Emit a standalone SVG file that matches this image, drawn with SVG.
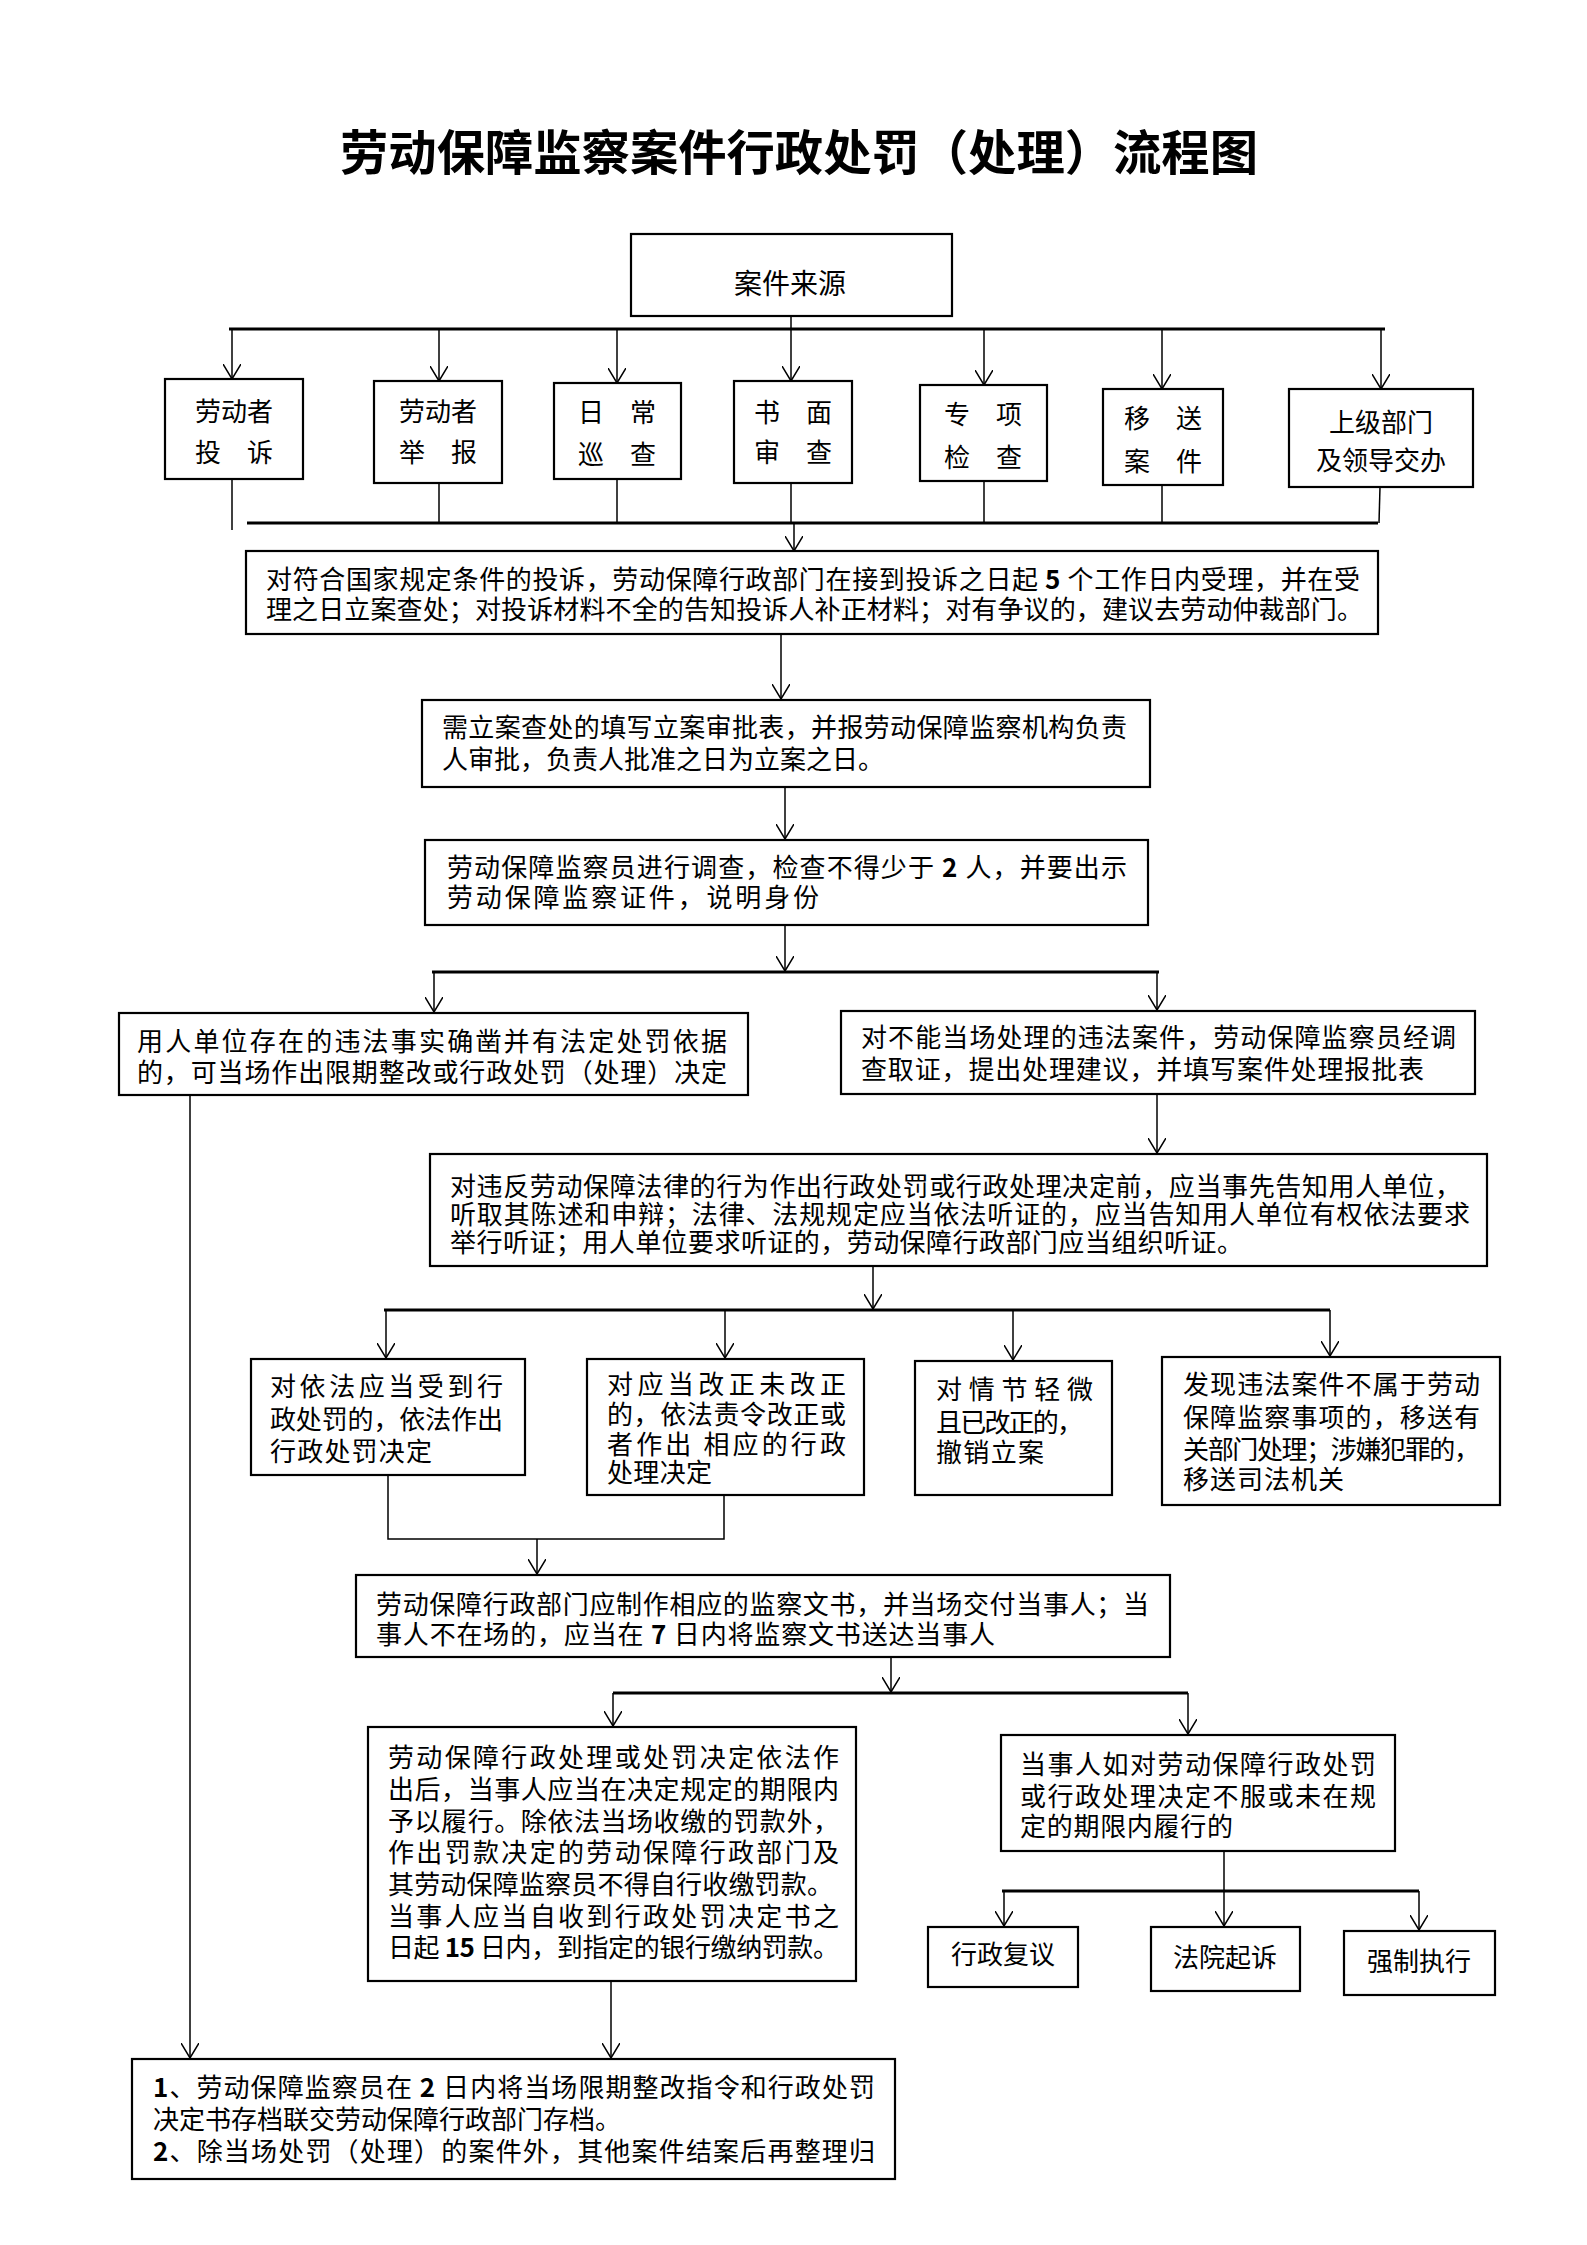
<svg xmlns="http://www.w3.org/2000/svg" width="1587" height="2245" viewBox="0 0 1587 2245">
<defs>
<style>
.box{fill:#fff;stroke:#000;stroke-width:2.2}
.ln{stroke:#000;stroke-width:1.5;fill:none}
.bar{stroke:#000;stroke-width:3;fill:none}
.t{font-family:"Noto Sans CJK SC","Noto Sans CJK TC",sans-serif;font-size:26px;fill:#000}
.c{text-anchor:middle}
.title{font-family:"Noto Sans CJK SC",sans-serif;font-size:48px;font-weight:bold;fill:#000;text-anchor:middle}
.d{font-weight:bold}
</style>
<marker id="ah" viewBox="0 0 15 18" refX="15" refY="9" markerWidth="15" markerHeight="18" markerUnits="userSpaceOnUse" orient="auto">
<path d="M0,0 L15,9 L0,18" fill="none" stroke="#000" stroke-width="1.5"/>
</marker>
</defs>
<rect width="1587" height="2245" fill="#fff"/>
<text class="title" x="799" y="170" textLength="918" lengthAdjust="spacingAndGlyphs">劳动保障监察案件行政处罚（处理）流程图</text>

<g id="connectors">
<line class="ln" x1="791" y1="316" x2="791" y2="381" marker-end="url(#ah)"/>
<line class="bar" x1="229" y1="329" x2="1385" y2="329"/>
<line class="ln" x1="232" y1="329" x2="232" y2="379" marker-end="url(#ah)"/>
<line class="ln" x1="439" y1="329" x2="439" y2="381" marker-end="url(#ah)"/>
<line class="ln" x1="617" y1="329" x2="617" y2="383" marker-end="url(#ah)"/>
<line class="ln" x1="984" y1="329" x2="984" y2="385" marker-end="url(#ah)"/>
<line class="ln" x1="1162" y1="329" x2="1162" y2="389" marker-end="url(#ah)"/>
<line class="ln" x1="1381" y1="329" x2="1381" y2="389" marker-end="url(#ah)"/>
<line class="ln" x1="232" y1="479" x2="232" y2="530"/>
<line class="ln" x1="439" y1="483" x2="439" y2="523"/>
<line class="ln" x1="617" y1="479" x2="617" y2="523"/>
<line class="ln" x1="791" y1="483" x2="791" y2="523"/>
<line class="ln" x1="984" y1="481" x2="984" y2="523"/>
<line class="ln" x1="1162" y1="485" x2="1162" y2="523"/>
<line class="ln" x1="1380" y1="487" x2="1379" y2="523"/>
<line class="bar" x1="247" y1="523" x2="1378" y2="523"/>
<line class="ln" x1="794" y1="523" x2="794" y2="551" marker-end="url(#ah)"/>
<line class="ln" x1="781" y1="634" x2="781" y2="699" marker-end="url(#ah)"/>
<line class="ln" x1="785" y1="787" x2="785" y2="839" marker-end="url(#ah)"/>
<line class="ln" x1="785" y1="925" x2="785" y2="971" marker-end="url(#ah)"/>
<line class="bar" x1="432" y1="972" x2="1159" y2="972"/>
<line class="ln" x1="434" y1="972" x2="434" y2="1012" marker-end="url(#ah)"/>
<line class="ln" x1="1157" y1="972" x2="1157" y2="1010" marker-end="url(#ah)"/>
<line class="ln" x1="190" y1="1095" x2="190" y2="2058" marker-end="url(#ah)"/>
<line class="ln" x1="1157" y1="1094" x2="1157" y2="1153" marker-end="url(#ah)"/>
<line class="ln" x1="873" y1="1266" x2="873" y2="1309" marker-end="url(#ah)"/>
<line class="bar" x1="384" y1="1310" x2="1330" y2="1310"/>
<line class="ln" x1="386" y1="1310" x2="386" y2="1358" marker-end="url(#ah)"/>
<line class="ln" x1="725" y1="1310" x2="725" y2="1358" marker-end="url(#ah)"/>
<line class="ln" x1="1013" y1="1310" x2="1013" y2="1360" marker-end="url(#ah)"/>
<line class="ln" x1="1330" y1="1310" x2="1330" y2="1356" marker-end="url(#ah)"/>
<polyline class="ln" points="388,1475 388,1539 724,1539 724,1495"/>
<line class="ln" x1="537" y1="1539" x2="537" y2="1574" marker-end="url(#ah)"/>
<line class="ln" x1="891" y1="1657" x2="891" y2="1692" marker-end="url(#ah)"/>
<line class="bar" x1="613" y1="1693" x2="1188" y2="1693"/>
<line class="ln" x1="613" y1="1693" x2="613" y2="1726" marker-end="url(#ah)"/>
<line class="ln" x1="1188" y1="1693" x2="1188" y2="1734" marker-end="url(#ah)"/>
<line class="ln" x1="1224" y1="1851" x2="1224" y2="1926" marker-end="url(#ah)"/>
<line class="bar" x1="1002" y1="1891" x2="1419" y2="1891"/>
<line class="ln" x1="1004" y1="1891" x2="1004" y2="1926" marker-end="url(#ah)"/>
<line class="ln" x1="1419" y1="1891" x2="1419" y2="1930" marker-end="url(#ah)"/>
<line class="ln" x1="611" y1="1981" x2="611" y2="2058" marker-end="url(#ah)"/>
</g>

<g id="n-source"><rect class="box" x="631" y="234" width="321" height="82"/><text class="t c" x="790" y="294" style="font-size:28px">案件来源</text></g>

<g id="n-s1"><rect class="box" x="165" y="379" width="138" height="100"/><text class="t c" x="234" y="421">劳动者</text><text class="t c" x="234" y="462">投　诉</text></g>
<g id="n-s2"><rect class="box" x="374" y="381" width="128" height="102"/><text class="t c" x="438" y="421">劳动者</text><text class="t c" x="438" y="462">举　报</text></g>
<g id="n-s3"><rect class="box" x="554" y="383" width="127" height="96"/><text class="t c" x="617" y="422">日　常</text><text class="t c" x="617" y="464">巡　查</text></g>
<g id="n-s4"><rect class="box" x="734" y="381" width="118" height="102"/><text class="t c" x="793" y="422">书　面</text><text class="t c" x="793" y="462">审　查</text></g>
<g id="n-s5"><rect class="box" x="920" y="385" width="127" height="96"/><text class="t c" x="983" y="424">专　项</text><text class="t c" x="983" y="467">检　查</text></g>
<g id="n-s6"><rect class="box" x="1103" y="389" width="120" height="96"/><text class="t c" x="1163" y="428">移　送</text><text class="t c" x="1163" y="471">案　件</text></g>
<g id="n-s7"><rect class="box" x="1289" y="389" width="184" height="98"/><text class="t c" x="1381" y="432">上级部门</text><text class="t c" x="1381" y="470">及领导交办</text></g>

<g id="n-accept"><rect class="box" x="246" y="551" width="1132" height="83"/>
<text class="t" x="266" y="589" textLength="1094" lengthAdjust="spacing">对符合国家规定条件的投诉，劳动保障行政部门在接到投诉之日起 <tspan class="d">5</tspan> 个工作日内受理，并在受</text>
<text class="t" x="266" y="619" textLength="1097" lengthAdjust="spacing">理之日立案查处；对投诉材料不全的告知投诉人补正材料；对有争议的，建议去劳动仲裁部门。</text></g>

<g id="n-file"><rect class="box" x="422" y="700" width="728" height="87"/>
<text class="t" x="442" y="737" textLength="685" lengthAdjust="spacing">需立案查处的填写立案审批表，并报劳动保障监察机构负责</text>
<text class="t" x="442" y="769">人审批，负责人批准之日为立案之日。</text></g>

<g id="n-investigate"><rect class="box" x="425" y="840" width="723" height="85"/>
<text class="t" x="447" y="877" textLength="680" lengthAdjust="spacing">劳动保障监察员进行调查，检查不得少于 <tspan class="d">2</tspan> 人，并要出示</text>
<text class="t" x="447" y="907" textLength="372" lengthAdjust="spacing">劳动保障监察证件，说明身份</text></g>

<g id="n-onsite"><rect class="box" x="119" y="1013" width="629" height="82"/>
<text class="t" x="137" y="1051" textLength="590" lengthAdjust="spacing">用人单位存在的违法事实确凿并有法定处罚依据</text>
<text class="t" x="137" y="1082" textLength="590" lengthAdjust="spacing">的，可当场作出限期整改或行政处罚（处理）决定</text></g>

<g id="n-notonsite"><rect class="box" x="841" y="1011" width="634" height="83"/>
<text class="t" x="861" y="1047" textLength="595" lengthAdjust="spacing">对不能当场处理的违法案件，劳动保障监察员经调</text>
<text class="t" x="861" y="1079" textLength="563" lengthAdjust="spacing">查取证，提出处理建议，并填写案件处理报批表</text></g>

<g id="n-hearing"><rect class="box" x="430" y="1154" width="1057" height="112"/>
<text class="t" x="450" y="1196" textLength="1011" lengthAdjust="spacing">对违反劳动保障法律的行为作出行政处罚或行政处理决定前，应当事先告知用人单位，</text>
<text class="t" x="450" y="1224" textLength="1020" lengthAdjust="spacing">听取其陈述和申辩；法律、法规规定应当依法听证的，应当告知用人单位有权依法要求</text>
<text class="t" x="450" y="1252" textLength="793" lengthAdjust="spacing">举行听证；用人单位要求听证的，劳动保障行政部门应当组织听证。</text></g>

<g id="n-penalty"><rect class="box" x="251" y="1359" width="274" height="116"/>
<text class="t" x="270" y="1396" textLength="233" lengthAdjust="spacing">对依法应当受到行</text>
<text class="t" x="270" y="1429" textLength="233" lengthAdjust="spacing">政处罚的，依法作出</text>
<text class="t" x="270" y="1461" textLength="162" lengthAdjust="spacing">行政处罚决定</text></g>

<g id="n-correct"><rect class="box" x="587" y="1359" width="277" height="136"/>
<text class="t" x="607" y="1394" textLength="239" lengthAdjust="spacing">对应当改正未改正</text>
<text class="t" x="607" y="1424" textLength="239" lengthAdjust="spacing">的，依法责令改正或</text>
<text class="t" x="607" y="1454" textLength="239" lengthAdjust="spacing">者作出 相应的行政</text>
<text class="t" x="607" y="1482" textLength="105" lengthAdjust="spacing">处理决定</text></g>

<g id="n-revoke"><rect class="box" x="915" y="1361" width="197" height="134"/>
<text class="t" x="936" y="1399" textLength="157" lengthAdjust="spacing">对情节轻微</text>
<text class="t" x="936" y="1432" textLength="147" lengthAdjust="spacing">且已改正的，</text>
<text class="t" x="936" y="1462" textLength="108" lengthAdjust="spacing">撤销立案</text></g>

<g id="n-transfer"><rect class="box" x="1162" y="1357" width="338" height="148"/>
<text class="t" x="1183" y="1394" textLength="297" lengthAdjust="spacing">发现违法案件不属于劳动</text>
<text class="t" x="1183" y="1427" textLength="297" lengthAdjust="spacing">保障监察事项的，移送有</text>
<text class="t" x="1183" y="1459" textLength="297" lengthAdjust="spacing">关部门处理；涉嫌犯罪的，</text>
<text class="t" x="1183" y="1489" textLength="161" lengthAdjust="spacing">移送司法机关</text></g>

<g id="n-document"><rect class="box" x="356" y="1575" width="814" height="82"/>
<text class="t" x="376" y="1614" textLength="773" lengthAdjust="spacing">劳动保障行政部门应制作相应的监察文书，并当场交付当事人；当</text>
<text class="t" x="376" y="1644" textLength="619" lengthAdjust="spacing">事人不在场的，应当在 <tspan class="d">7</tspan> 日内将监察文书送达当事人</text></g>

<g id="n-perform"><rect class="box" x="368" y="1727" width="488" height="254"/>
<text class="t" x="388" y="1767" textLength="451" lengthAdjust="spacing">劳动保障行政处理或处罚决定依法作</text>
<text class="t" x="388" y="1799" textLength="451" lengthAdjust="spacing">出后，当事人应当在决定规定的期限内</text>
<text class="t" x="388" y="1831" textLength="451" lengthAdjust="spacing">予以履行。除依法当场收缴的罚款外，</text>
<text class="t" x="388" y="1862" textLength="451" lengthAdjust="spacing">作出罚款决定的劳动保障行政部门及</text>
<text class="t" x="388" y="1894" textLength="445" lengthAdjust="spacing">其劳动保障监察员不得自行收缴罚款。</text>
<text class="t" x="388" y="1926" textLength="451" lengthAdjust="spacing">当事人应当自收到行政处罚决定书之</text>
<text class="t" x="388" y="1957" textLength="451" lengthAdjust="spacing">日起 <tspan class="d">15</tspan> 日内，到指定的银行缴纳罚款。</text></g>

<g id="n-dispute"><rect class="box" x="1001" y="1735" width="394" height="116"/>
<text class="t" x="1020" y="1774" textLength="356" lengthAdjust="spacing">当事人如对劳动保障行政处罚</text>
<text class="t" x="1020" y="1806" textLength="356" lengthAdjust="spacing">或行政处理决定不服或未在规</text>
<text class="t" x="1020" y="1836" textLength="213" lengthAdjust="spacing">定的期限内履行的</text></g>

<g id="n-review"><rect class="box" x="928" y="1927" width="150" height="60"/><text class="t c" x="1003" y="1964">行政复议</text></g>
<g id="n-court"><rect class="box" x="1151" y="1927" width="149" height="64"/><text class="t c" x="1225" y="1967">法院起诉</text></g>
<g id="n-enforce"><rect class="box" x="1344" y="1931" width="151" height="64"/><text class="t c" x="1419" y="1971">强制执行</text></g>

<g id="n-archive"><rect class="box" x="132" y="2059" width="763" height="120"/>
<text class="t" x="153" y="2097" textLength="722" lengthAdjust="spacing"><tspan class="d">1</tspan>、劳动保障监察员在 <tspan class="d">2</tspan> 日内将当场限期整改指令和行政处罚</text>
<text class="t" x="153" y="2129">决定书存档联交劳动保障行政部门存档。</text>
<text class="t" x="153" y="2161" textLength="722" lengthAdjust="spacing"><tspan class="d">2</tspan>、除当场处罚（处理）的案件外，其他案件结案后再整理归</text></g>
</svg>
